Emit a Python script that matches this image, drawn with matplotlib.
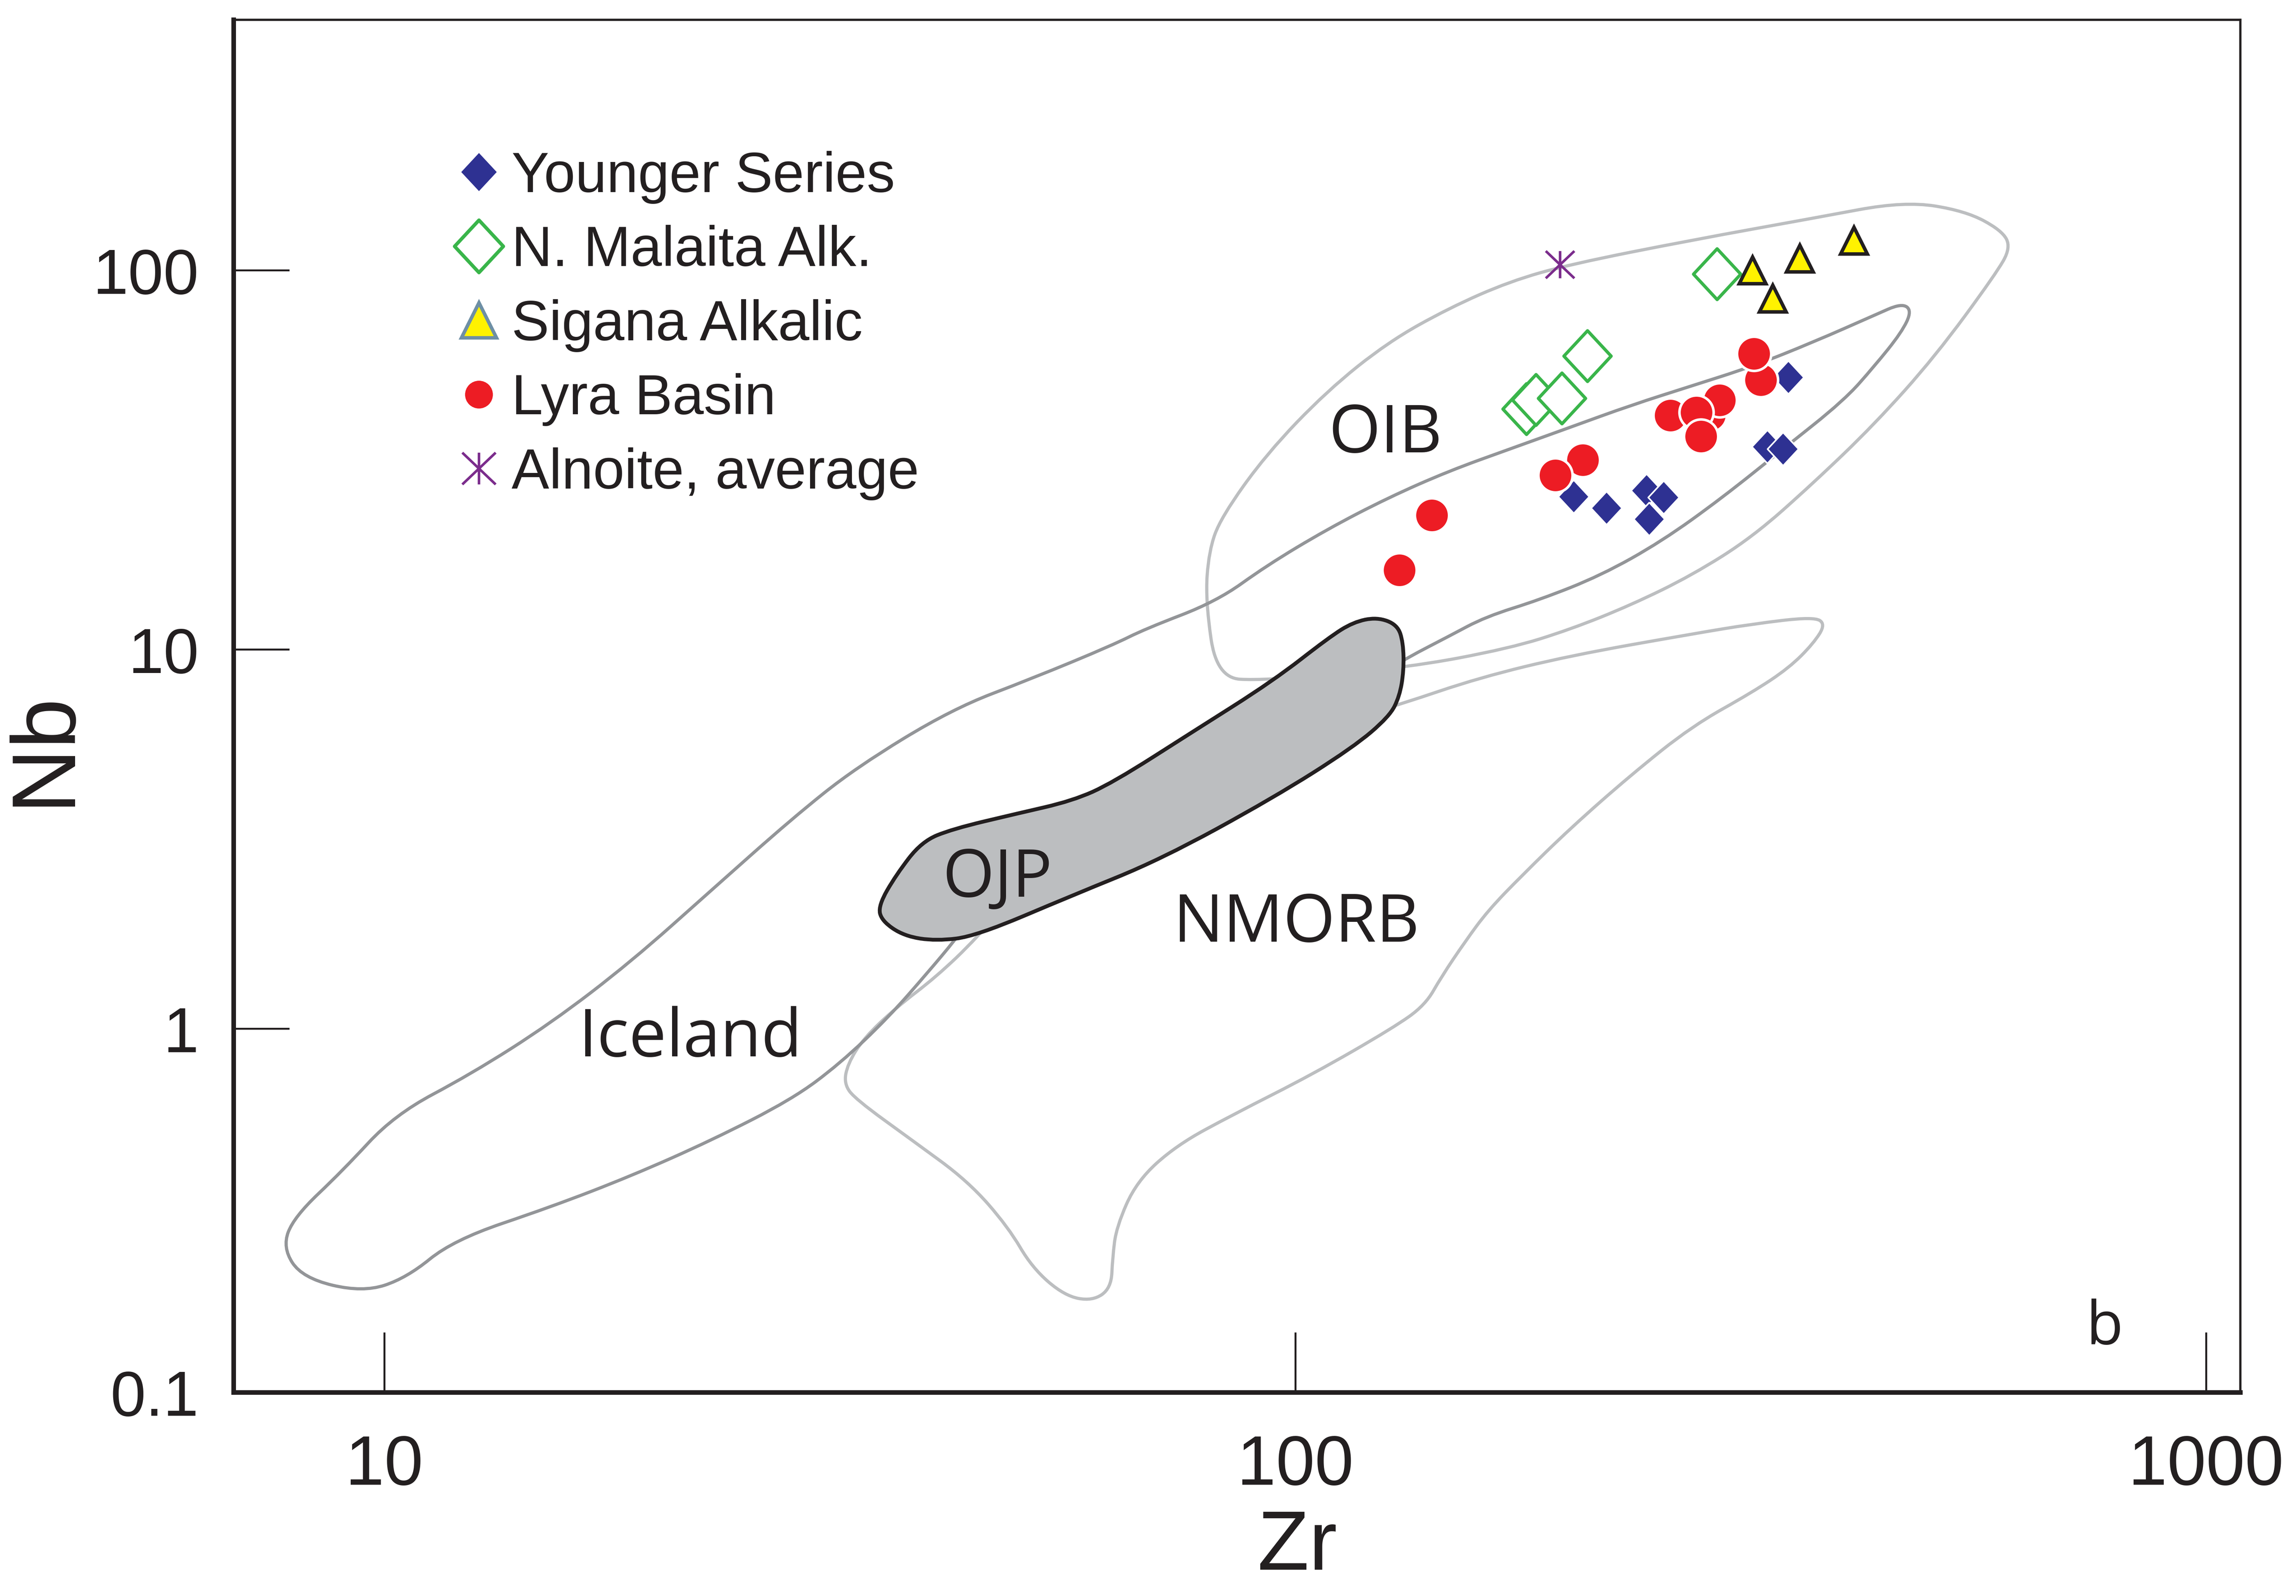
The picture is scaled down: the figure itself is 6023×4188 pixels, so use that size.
import matplotlib
matplotlib.use("Agg")
import numpy as np
import matplotlib.pyplot as plt
from matplotlib.lines import Line2D
from matplotlib.path import Path
from matplotlib.patches import PathPatch
from matplotlib.markers import MarkerStyle

plt.rcParams['font.family'] = ['Liberation Sans', 'DejaVu Sans']

# ---------------- sample data (Zr, Nb in ppm) ----------------
younger_zr = [202.2, 219.6, 242.9, 253.7, 244.7, 347.8, 329.9, 343.1]
younger_nb = [25.3, 23.6, 26.3, 25.2, 22.1, 52.2, 34.3, 33.8]

malaita_zr = [179.3, 183.8, 196.2, 209.2, 290.4]
malaita_nb = [43.1, 45.6, 46.0, 59.5, 97.8]

sigana_zr = [317.8, 357.9, 410.4, 334.3]
sigana_nb = [100.2, 107.6, 119.8, 84.4]

lyra_zr = [141.2, 130.2, 206.8, 193.1, 258.1, 285.2, 292.3, 275.8, 278.8, 324.6, 318.9]
lyra_nb = [22.6, 16.2, 31.6, 28.8, 41.4, 41.6, 45.5, 42.2, 36.5, 51.4, 60.3]

alnoite_zr = [195.2]
alnoite_nb = [103.7]

# ---------------- reference fields (outline vertices, Zr / Nb) ----------------
oib_zr = [82.0, 79.7, 80.4, 82.9, 93.0, 108.4, 126.5, 147.5, 172.0, 200.5, 272.7, 370.7,
          466.7, 544.0, 596.6, 610.6, 587.5, 504.0, 432.2, 370.7, 317.8, 272.7, 233.7,
          200.5, 172.0, 132.5, 92.2]
oib_nb = [8.43, 13.5, 18.2, 22.3, 32.8, 48.1, 64.7, 79.5, 93.5, 103.8, 120.2, 137.3,
          152.2, 143.5, 127.5, 114.9, 97.7, 59.2, 39.2, 27.5, 19.8, 15.7, 13.1,
          11.3, 10.07, 8.95, 8.27]

iceland_zr = [7.73, 7.96, 9.00, 10.26, 12.45, 15.25, 18.67, 22.88, 28.02, 32.93,
              42.02, 51.44, 63.03, 68.42, 82.0, 93.0, 108.4, 126.5, 147.5, 172.0,
              200.5, 233.7, 272.7, 317.8, 370.7, 432.2, 463.2, 475.4, 463.2, 432.2,
              400.4, 343.2, 294.4, 252.5, 216.6, 185.6, 161.8, 147.5, 132.5, 126.7,
              68.42, 43.08, 42.43, 39.55, 35.74, 31.62, 28.02, 22.88, 18.67, 15.25,
              11.9, 10.58, 9.47, 8.13]
iceland_nb = [0.265, 0.319, 0.422, 0.593, 0.759, 1.035, 1.503, 2.322, 3.579, 4.88,
              6.97, 8.39, 10.27, 11.33, 13.39, 16.64, 20.75, 25.14, 29.57, 33.78,
              38.57, 44.08, 49.61, 55.8, 64.7, 76.1, 81.9, 78.3, 68.6, 55.8,
              45.37, 33.78, 25.14, 19.28, 15.68, 13.53, 12.20, 10.84, 9.49, 8.83,
              4.02, 1.829, 1.727, 1.411, 1.069, 0.808, 0.651, 0.508, 0.409, 0.339,
              0.277, 0.220, 0.2016, 0.220]

nmorb_zr = [44.65, 40.36, 36.47, 33.6, 32.27, 31.96, 32.93, 37.97, 43.75, 48.41,
            51.44, 55.83, 59.9, 62.8, 63.03, 63.64, 66.98, 74.1, 85.4, 104.6,
            128.1, 138.9, 144.7, 153.8, 162.8, 177.2, 200.5, 233.7, 272.7, 317.8,
            348.6, 370.7, 382.3, 370.7, 317.8, 272.7, 200.5, 159.3, 130.5, 110.7,
            51.24]
nmorb_nb = [1.727, 1.370, 1.137, 0.944, 0.808, 0.715, 0.651, 0.508, 0.396, 0.300,
            0.234, 0.1975, 0.1913, 0.2068, 0.249, 0.300, 0.396, 0.493, 0.593, 0.759,
            1.005, 1.154, 1.370, 1.703, 2.049, 2.529, 3.378, 4.67, 6.28, 7.72,
            8.95, 10.38, 11.68, 12.20, 11.68, 10.99, 9.64, 8.43, 7.17, 6.38,
            2.529]

ojp_zr = [123.0, 129.5, 131.4, 131.6, 130.2, 126.9, 115.8, 94.6, 71.18, 56.96,
          44.65, 40.36, 37.21, 35.16, 34.86, 36.47, 38.9, 42.02, 49.4, 56.96,
          63.03, 77.2, 94.6, 108.9, 115.8]
ojp_nb = [12.17, 11.62, 10.43, 8.80, 7.53, 6.66, 5.52, 4.06, 2.794, 2.248,
          1.755, 1.703, 1.755, 1.925, 2.111, 2.547, 3.115, 3.362, 3.688, 3.99,
          4.45, 6.07, 8.27, 10.76, 11.81]

field_labels = ["OIB", "Iceland", "OJP", "NMORB"]
field_label_zr = [125.6, 21.68, 47.12, 100.3]
field_label_nb = [33.2, 0.847, 2.235, 1.701]

legend_labels = ["Younger Series", "N. Malaita Alk.", "Sigana Alkalic",
                 "Lyra Basin", "Alnoite, average"]

x_limits = [6.834, 1090.5]
y_limits = [0.1098, 457.8]
x_ticks = [10, 100, 1000]
x_ticklabels = ["10", "100", "1000"]
# the lowest label of the original sits on the bottom edge of the frame
y_ticks = [y_limits[0], 1, 10, 100]
y_ticklabels = ["0.1", "1", "10", "100"]

# ---------------- styles ----------------
BLUE = "#2E3192"
GREEN = "#39B54A"
YELLOW = "#FFF200"
RED = "#ED1C24"
PURPLE = "#7B2C8C"
DARK = "#231F20"
GREY_D = "#939598"
GREY_L = "#BCBEC0"

dia_path = Path([(0, 1), (0.93, 0), (0, -1), (-0.93, 0), (0, 1)],
                [Path.MOVETO, Path.LINETO, Path.LINETO, Path.LINETO, Path.CLOSEPOLY])
DIA = MarkerStyle(dia_path, joinstyle='miter')
ast_path = Path([(0, -1), (0, 1), (-1.05, -1), (1.05, 1), (-1.05, 1), (1.05, -1)],
                [Path.MOVETO, Path.LINETO, Path.MOVETO, Path.LINETO, Path.MOVETO, Path.LINETO])
AST = MarkerStyle(ast_path, capstyle='butt')


def rounded_outline(xs, ys):
    """Closed outline through the traced vertices, drawn with rounded
    (quadratic Bezier) corners in log-log space."""
    lx = np.log10(np.asarray(xs, float))
    ly = np.log10(np.asarray(ys, float))
    mx = (lx + np.roll(lx, -1)) / 2
    my = (ly + np.roll(ly, -1)) / 2
    verts = [(mx[-1], my[-1])]
    codes = [Path.MOVETO]
    for i in range(len(lx)):
        verts += [(lx[i], ly[i]), (mx[i], my[i])]
        codes += [Path.CURVE3, Path.CURVE3]
    verts.append((mx[-1], my[-1]))
    codes.append(Path.CLOSEPOLY)
    return Path(10 ** np.array(verts), codes)


fig = plt.figure(figsize=(20.08, 13.96333), dpi=300)
ax = fig.add_axes([0.10176, 0.12748, 0.87384, 0.85987])
ax.set_xscale('log')
ax.set_yscale('log')
ax.set_xlim(*x_limits)
ax.set_ylim(*y_limits)

# fields
for xs, ys, fc, ec, lw, z in ((oib_zr, oib_nb, 'none', GREY_L, 2.0, 1.0),
                              (nmorb_zr, nmorb_nb, 'none', GREY_L, 2.0, 1.1),
                              (iceland_zr, iceland_nb, 'none', GREY_D, 2.0, 1.2),
                              (ojp_zr, ojp_nb, GREY_L, DARK, 2.4, 2.0)):
    ax.add_patch(PathPatch(rounded_outline(xs, ys), facecolor=fc, edgecolor=ec,
                           lw=lw, joinstyle='round', zorder=z))

for lab, zx, ny in zip(field_labels, field_label_zr, field_label_nb):
    ax.text(zx, ny, lab, ha='center', va='baseline', fontsize=42,
            family=['Open Sans', 'DejaVu Sans'], color=DARK, zorder=3)
ax.text(0.9324, 0.0355, "b", transform=ax.transAxes, ha='center', va='baseline',
        fontsize=38, family=['Open Sans', 'DejaVu Sans'], color=DARK)

# samples
ax.plot(younger_zr, younger_nb, ls='none', marker=DIA, ms=21, mfc=BLUE, mec='white', mew=1.0, zorder=5)
ax.plot(lyra_zr, lyra_nb, ls='none', marker='o', ms=21.5, mfc=RED, mec='white', mew=1.6, zorder=6)
for zx, ny in zip(malaita_zr, malaita_nb):
    ax.plot([zx], [ny], ls='none', marker=DIA, ms=32, mfc='white', mec=GREEN, mew=2.0, zorder=7)
ax.plot(sigana_zr, sigana_nb, ls='none', marker='^', ms=17, mfc=YELLOW, mec=DARK, mew=2.2, zorder=8)
ax.plot(alnoite_zr, alnoite_nb, ls='none', marker=AST, ms=18, mfc='none', mec=PURPLE, mew=1.6, zorder=8)

# axes styling
ax.set_xticks(x_ticks)
ax.set_xticklabels(x_ticklabels)
ax.set_yticks(y_ticks)
ax.set_yticklabels(y_ticklabels)
ax.minorticks_off()
ax.tick_params(axis='x', which='major', direction='in', length=38, width=1.2,
               labelsize=44, pad=26, color=DARK, labelcolor=DARK)
ax.tick_params(axis='y', which='major', direction='in', length=35, width=1.2,
               labelsize=40, pad=22, color=DARK, labelcolor=DARK)
for side, lw in (('left', 2.9), ('bottom', 2.9), ('top', 1.4), ('right', 1.4)):
    ax.spines[side].set_linewidth(lw)
    ax.spines[side].set_color(DARK)

ax.set_xlabel("Zr", fontsize=53, color=DARK)
ax.xaxis.label.set_va('center')
ax.xaxis.set_label_coords(0.530, -0.1130)
ax.set_ylabel("Nb", fontsize=57, color=DARK)
ax.yaxis.label.set_va('center')
ax.yaxis.set_label_coords(-0.0944, 0.4695)

# legend
handles = [
    Line2D([], [], ls='none', marker=DIA, ms=24, mfc=BLUE, mec=BLUE, mew=0),
    Line2D([], [], ls='none', marker=DIA, ms=33, mfc='white', mec=GREEN, mew=2.2),
    Line2D([], [], ls='none', marker='^', ms=22, mfc=YELLOW, mec='#6E8FA5', mew=2.2),
    Line2D([], [], ls='none', marker='o', ms=17.5, mfc=RED, mec=RED, mew=0),
    Line2D([], [], ls='none', marker=AST, ms=21, mfc='none', mec=PURPLE, mew=1.6),
]
leg = ax.legend(handles, legend_labels, loc='upper left', bbox_to_anchor=(0.1117, 0.9048),
                frameon=False, borderpad=0, borderaxespad=0, handlelength=0.75,
                handletextpad=0.2, labelspacing=0.375, fontsize=35.5)
for t in leg.get_texts():
    t.set_color(DARK)

fig.savefig("out.png", dpi=300)
